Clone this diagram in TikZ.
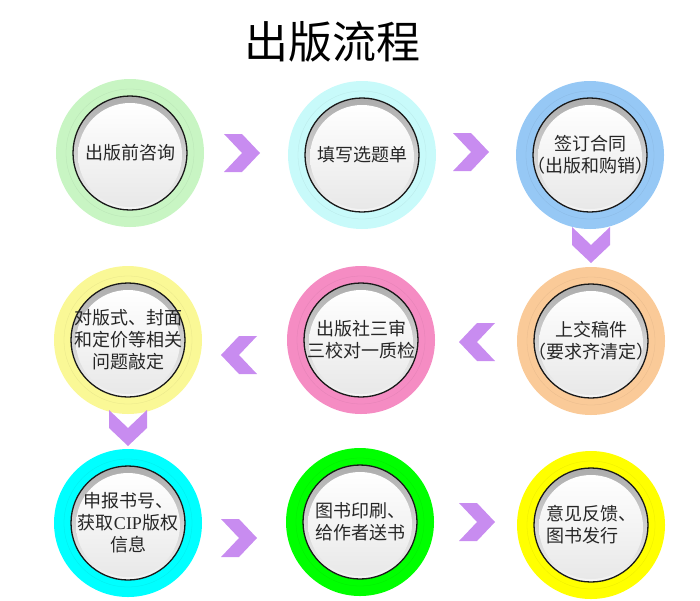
\documentclass[tikz,border=0pt]{standalone}
\usepackage{fontspec}
\newfontfamily\cjk{Noto Sans CJK SC}
\newfontfamily\latin{Liberation Serif}
\definecolor{ringA}{RGB}{200,245,195}
\definecolor{ringB}{RGB}{200,250,250}
\definecolor{ringC}{RGB}{150,200,245}
\definecolor{ringD}{RGB}{250,202,152}
\definecolor{ringE}{RGB}{245,140,195}
\definecolor{ringF}{RGB}{250,248,150}
\definecolor{ringG}{RGB}{0,255,255}
\definecolor{ringH}{RGB}{0,255,0}
\definecolor{ringI}{RGB}{255,255,0}
\definecolor{chevcol}{RGB}{200,140,240}

\begin{document}
\begin{tikzpicture}[x=1pt,y=-1pt,
  stepnode/.style={circle,minimum size=148pt,inner sep=0pt,fill=#1,align=center,
    font=\cjk\fontsize{18}{22}\selectfont,text=black!85,
    path picture={
      \draw[#1!88!black,line width=0.3pt,opacity=0.6] (path picture bounding box.center) circle[radius=64];
      \shadedraw[top color=gray!65,bottom color=gray!8,draw=black!90,line width=1.3pt] (path picture bounding box.center) circle[radius=57];
      \shade[top color=white,bottom color=gray!18] (path picture bounding box.center) ++(0,2) circle[radius=52];
    }},
  chevron/.pic={\fill[chevcol] (-18,-19) -- (0,-19) -- (18,0) -- (0,19) -- (-18,19) -- (0,0) -- cycle;}]
\useasboundingbox (0,0) rectangle (700,600);
\node[font=\cjk\fontsize{44}{50}\selectfont] (title) at (332,42) {出版流程};

\node[stepnode=ringA] (consult) at (130,153) {出版前咨询};
\node[stepnode=ringB] (form) at (362,155) {填写选题单};
\node[stepnode=ringC] (contract) at (590,155) {签订合同\\（出版和购销）};
\node[stepnode=ringD] (submit) at (591,341) {上交稿件\\（要求齐清定）};
\node[stepnode=ringE] (review) at (361,340) {出版社三审\\三校对一质检};
\node[stepnode=ringF] (design) at (128,340) {对版式、封面\\和定价等相关\\问题敲定};
\node[stepnode=ringG] (isbn) at (128,523) {申报书号、\\获取{\latin CIP}版权\\信息};
\node[stepnode=ringH] (print) at (360,522) {图书印刷、\\给作者送书};
\node[stepnode=ringI,align=left] (release) at (591,525) {意见反馈、\\图书发行};

\pic at (242,153) {chevron};
\pic at (471,152) {chevron};
\pic[rotate=-90] at (591,245) {chevron};
\pic[rotate=180] at (477,342) {chevron};
\pic[rotate=180] at (239,355) {chevron};
\pic[rotate=-90] at (128,428) {chevron};
\pic at (239,538) {chevron};
\pic at (477,522) {chevron};
\end{tikzpicture}
\end{document}
